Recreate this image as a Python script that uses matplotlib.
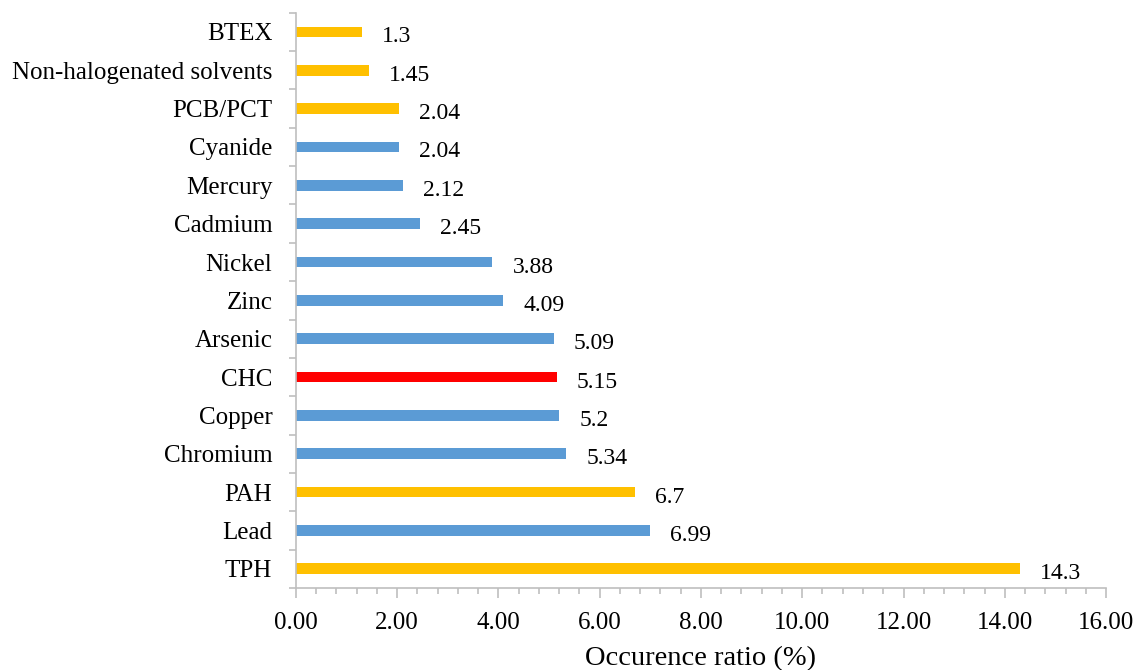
import matplotlib
matplotlib.use("Agg")
import matplotlib.pyplot as plt
from matplotlib.ticker import MultipleLocator, FormatStrFormatter

categories = ["TPH", "Lead", "PAH", "Chromium", "Copper", "CHC", "Arsenic",
              "Zinc", "Nickel", "Cadmium", "Mercury", "Cyanide", "PCB/PCT",
              "Non-halogenated solvents", "BTEX"]
values = [14.3, 6.99, 6.7, 5.34, 5.2, 5.15, 5.09, 4.09, 3.88, 2.45, 2.12,
          2.04, 2.04, 1.45, 1.3]
value_labels = ["14.3", "6.99", "6.7", "5.34", "5.2", "5.15", "5.09", "4.09",
                "3.88", "2.45", "2.12", "2.04", "2.04", "1.45", "1.3"]
groups = ["organic", "metal", "organic", "metal", "metal", "chlorinated",
          "metal", "metal", "metal", "metal", "metal", "metal", "organic",
          "organic", "organic"]
group_colors = {"organic": "#FFC000", "metal": "#5B9BD5", "chlorinated": "#FF0000"}

plt.rcParams["font.family"] = ["Liberation Serif", "DejaVu Serif"]

fig = plt.figure(figsize=(11.4, 6.7), dpi=100)
ax = fig.add_axes([0.2596, 0.1224, 0.9702 - 0.2596, 0.981 - 0.1224])

ypos = list(range(len(categories)))
colors = [group_colors[g] for g in groups]
ax.barh(ypos, values, height=0.28, color=colors)

for y, v, lab in zip(ypos, values, value_labels):
    ax.annotate(lab, xy=(v, y), xytext=(20, -5), textcoords="offset pixels",
                ha="left", va="center", fontsize=17, color="#000000")

ax.set_xlim(0, 16)
ax.set_ylim(-0.5, len(categories) - 0.5)
ax.xaxis.set_major_locator(MultipleLocator(2))
ax.xaxis.set_minor_locator(MultipleLocator(0.4))
ax.xaxis.set_major_formatter(FormatStrFormatter("%.2f"))

ax.set_yticks(ypos)
ax.set_yticklabels(categories)
ax.set_yticks([i + 0.5 for i in range(-1, len(categories))], minor=True)

grey = "#BFBFBF"
for s in ("top", "right"):
    ax.spines[s].set_visible(False)
for s in ("left", "bottom"):
    ax.spines[s].set_color(grey)
    ax.spines[s].set_linewidth(1.2)

ax.tick_params(axis="x", which="major", length=7, width=1.2, color=grey,
               labelsize=18, pad=10)
ax.tick_params(axis="x", which="minor", length=4, width=1.2, color=grey)
ax.tick_params(axis="y", which="major", length=0, labelsize=18, pad=17)
ax.tick_params(axis="y", which="minor", length=5, width=1.2, color=grey)

ax.set_xlabel("Occurence ratio (%)", fontsize=20.5, labelpad=9)

fig.savefig("out.png", dpi=100)
